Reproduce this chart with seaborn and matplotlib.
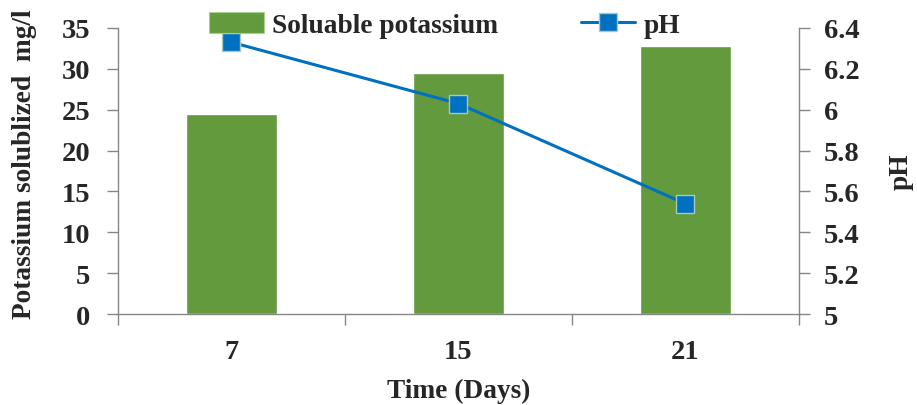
import matplotlib
matplotlib.use("Agg")
import matplotlib.pyplot as plt
import seaborn as sns
import pandas as pd
from matplotlib.patches import Patch
from matplotlib.lines import Line2D

days = ["7", "15", "21"]
potassium = [24.5, 29.5, 32.8]
ph = [6.33, 6.03, 5.54]
left_ticks = [0, 5, 10, 15, 20, 25, 30, 35]
right_ticks = [5, 5.2, 5.4, 5.6, 5.8, 6, 6.2, 6.4]
right_labels = ["5", "5.2", "5.4", "5.6", "5.8", "6", "6.2", "6.4"]

GREEN = "#629A3D"
BLUE = "#0070C0"
GRAY = "#868686"

sns.set_theme(style="white")
plt.rcParams['font.family'] = ['Liberation Serif', 'DejaVu Serif']
plt.rcParams['font.weight'] = 'bold'

df = pd.DataFrame({"day": days, "potassium": potassium, "ph": ph})

fig = plt.figure(figsize=(9.17, 4.06), dpi=100)
ax = fig.add_axes([0.1287, 0.224, 0.7425, 0.7046])
sns.barplot(data=df, x="day", y="potassium", color=GREEN, width=0.4,
            saturation=1, ax=ax)
ax.set_xlim(-0.5, 2.5)
ax.set_ylim(0, 35)
ax.set_yticks(left_ticks)
ax2 = ax.twinx()
sns.pointplot(data=df, x="day", y="ph", color=BLUE, markers="s",
              linestyles="-", ax=ax2, markersize=13.5, linewidth=2.2,
              markeredgecolor="#A9C9B9", markeredgewidth=1)
ax2.set_xlim(-0.5, 2.5)
ax2.set_ylim(5, 6.4)
ax2.set_yticks(right_ticks)
ax2.set_yticklabels(right_labels)

fs = 19.7
tfs = 20.5
for a in (ax, ax2):
    for s in a.spines.values():
        s.set_color(GRAY)
        s.set_linewidth(1)
    a.spines['top'].set_visible(False)
    a.grid(False)
ax.spines['right'].set_visible(False)
ax2.spines['left'].set_visible(False)
ax2.spines['bottom'].set_visible(False)

ax.tick_params(axis='y', which='major', left=True, length=8, width=1, color=GRAY,
               labelsize=tfs, pad=12)
ax2.tick_params(axis='y', which='major', right=True, length=8, width=1, color=GRAY,
                labelsize=tfs, pad=10)
ax.set_xticks([-0.5, 0.5, 1.5, 2.5], minor=True)
ax.tick_params(axis='x', which='major', bottom=False, length=0, labelsize=tfs, pad=18)
ax.tick_params(axis='x', which='minor', bottom=True, length=8, width=1, color=GRAY)
for lbl in ax.get_xticklabels() + ax.get_yticklabels() + ax2.get_yticklabels():
    lbl.set_fontweight('bold')

ax.set_xlabel("Time (Days)", fontsize=fs, fontweight='bold', labelpad=10)
ax.set_ylabel("Potassium solublized  mg/l", fontsize=fs, fontweight='bold')
ax.yaxis.set_label_coords(-0.119, 0.528)
ax2.set_ylabel("pH", fontsize=fs, fontweight='bold', labelpad=21)

handles = [Patch(facecolor=GREEN, edgecolor="#A9D18E", linewidth=0.8),
           Line2D([0], [0], color=BLUE, lw=2.2, marker="s", markersize=13.5,
                  markerfacecolor=BLUE, markeredgecolor="#A9C9B9")]
fig.legend(handles, ["Soluable potassium", "pH"], loc="center",
           bbox_to_anchor=(0.485, 0.936), ncol=2, frameon=False,
           prop={'size': fs, 'weight': 'bold'}, handlelength=2.0,
           handleheight=0.8, columnspacing=3.0, handletextpad=0.3)

fig.savefig("out.png", dpi=100)
